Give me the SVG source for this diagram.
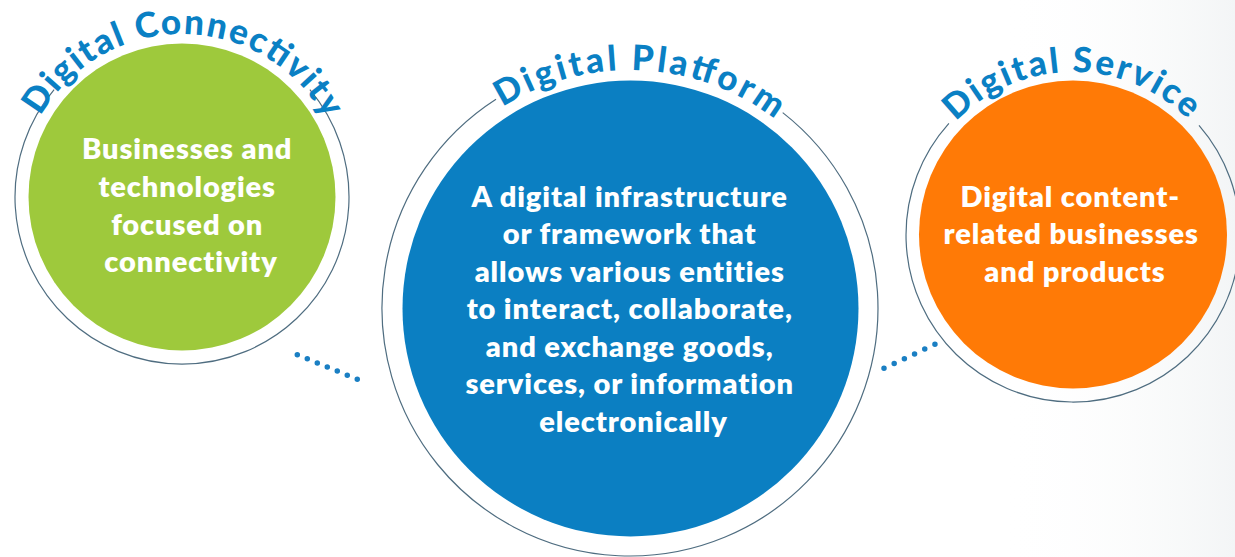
<svg xmlns="http://www.w3.org/2000/svg" width="1235" height="557" viewBox="0 0 1235 557">
  <defs>
    <linearGradient id="bgfade" x1="0" y1="0" x2="1" y2="0">
      <stop offset="0" stop-color="#ffffff" stop-opacity="0"/>
      <stop offset="1" stop-color="#f3f5f6" stop-opacity="1"/>
    </linearGradient>
    <path id="arcLeft" d="M 19,197 A 163 163 0 0 1 345,197"/>
    <path id="arcMid" d="M 392,308 A 238 238 0 0 1 868,308"/>
    <path id="arcRight" d="M 910,235 A 163 163 0 0 1 1236,235"/>
  </defs>
  <style>
    .ring { fill: none; stroke: #4f6d80; stroke-width: 1.2; }
    .title { font-family: Lato, "Liberation Sans", sans-serif; font-weight: 900; font-size: 35px; fill: #0a80c4; }
    .body { font-family: Lato, "Liberation Sans", sans-serif; font-weight: 800; font-size: 29px; letter-spacing: 0.9px; fill: #ffffff; text-anchor: middle; }
    .dots { fill: none; stroke: #1a7fc3; stroke-width: 5.5; stroke-linecap: round; }
  </style>
  <rect x="0" y="0" width="1235" height="557" fill="#ffffff"/>
  <rect x="1000" y="0" width="235" height="557" fill="url(#bgfade)"/>

  <g id="connectors">
    <line class="dots" x1="297.3" y1="354.7" x2="357.3" y2="379.3" stroke-dasharray="0 10.8"/>
    <line class="dots" x1="884" y1="368.3" x2="935" y2="344.3" stroke-dasharray="0 11.26"/>
  </g>

  <g id="node-connectivity">
    <path class="ring" d="M 309.9,89.7 A 167 167 0 1 1 54.1,89.7"/>
    <circle cx="182" cy="197" r="153.5" fill="#9ec93c"/>
    <text class="title"><textPath href="#arcLeft" startOffset="50.3%" text-anchor="middle" textLength="346" lengthAdjust="spacing">Digital Connectivity</textPath></text>
    <text class="body">
      <tspan x="191" y="159">Businesses and</tspan>
      <tspan x="191" y="197">technologies</tspan>
      <tspan x="191" y="235">focused on</tspan>
      <tspan x="191" y="272">connectivity</tspan>
    </text>
  </g>

  <g id="node-platform">
    <path class="ring" d="M 782.7,112.6 A 248 248 0 1 1 496,99.3"/>
    <circle cx="630.5" cy="308.5" r="228" fill="#0b7fc2"/>
    <text class="title"><textPath href="#arcMid" startOffset="51.4%" text-anchor="middle" textLength="290" lengthAdjust="spacing">Digital Platform</textPath></text>
    <text class="body">
      <tspan x="633.5" y="206.7">A digital infrastructure</tspan>
      <tspan x="633.5" y="244">or framework that</tspan>
      <tspan x="633.5" y="281.7">allows various entities</tspan>
      <tspan x="633.5" y="319">to interact, collaborate,</tspan>
      <tspan x="633.5" y="356.7">and exchange goods,</tspan>
      <tspan x="633.5" y="394">services, or information</tspan>
      <tspan x="633.5" y="431.7">electronically</tspan>
    </text>
  </g>

  <g id="node-service">
    <path class="ring" d="M 1199,125.4 A 167 167 0 1 1 948.9,123.3"/>
    <circle cx="1073" cy="234.5" r="154" fill="#ff7a06"/>
    <text class="title"><textPath href="#arcRight" startOffset="49.7%" text-anchor="middle" textLength="258" lengthAdjust="spacing">Digital Service</textPath></text>
    <text class="body">
      <tspan x="1074" y="206.7">Digital content-</tspan>
      <tspan x="1075" y="244">related businesses</tspan>
      <tspan x="1075" y="281.7">and products</tspan>
    </text>
  </g>
</svg>
